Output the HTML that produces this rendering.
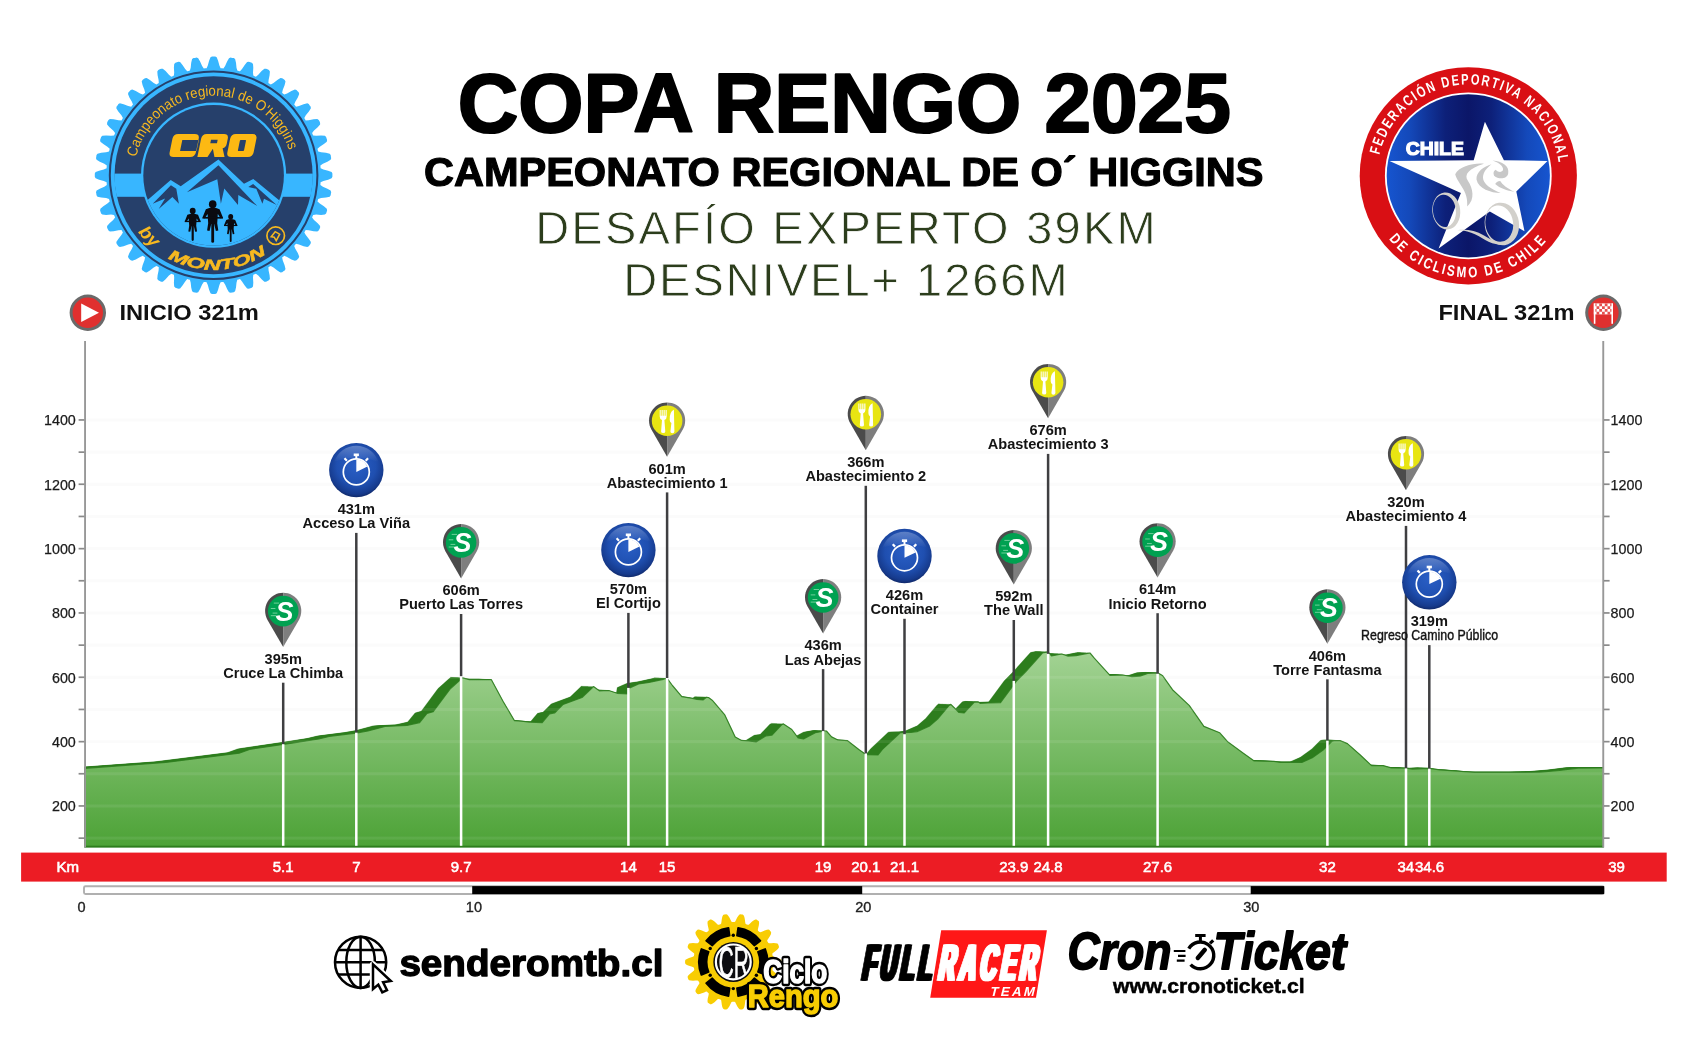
<!DOCTYPE html>
<html lang="es"><head><meta charset="utf-8"><title>Copa Rengo 2025 - Perfil</title>
<style>
html,body{margin:0;padding:0;background:#fff;}
body{width:1688px;height:1050px;overflow:hidden;font-family:"Liberation Sans",sans-serif;}
svg{display:block;position:absolute;left:0;top:0;will-change:transform;}
text{font-family:"Liberation Sans",sans-serif;}
</style></head><body>
<svg width="1688" height="1050" viewBox="0 0 1688 1050">
<defs>
<linearGradient id="gfill" gradientUnits="userSpaceOnUse" x1="0" y1="650" x2="0" y2="847">
<stop offset="0" stop-color="#a3d394"/><stop offset="1" stop-color="#4ca236"/></linearGradient>
<radialGradient id="gblue" cx="0.5" cy="0.42" r="0.58">
<stop offset="0" stop-color="#2a5fc6"/><stop offset="0.62" stop-color="#1f4fb0"/><stop offset="0.9" stop-color="#163a8c"/><stop offset="1" stop-color="#10296a"/></radialGradient>
<linearGradient id="gshine" x1="0" y1="0" x2="0" y2="1"><stop offset="0" stop-color="#fff" stop-opacity="0.28"/><stop offset="1" stop-color="#fff" stop-opacity="0"/></linearGradient>
<linearGradient id="gfed" x1="0" y1="0" x2="1" y2="0">
<stop offset="0" stop-color="#1655d0"/><stop offset="0.14" stop-color="#1449ba"/><stop offset="0.36" stop-color="#0d2079"/><stop offset="0.5" stop-color="#0b1668"/><stop offset="0.64" stop-color="#0d2079"/><stop offset="0.86" stop-color="#1449ba"/><stop offset="1" stop-color="#1655d0"/></linearGradient>
<g id="pinbase">
<path d="M0,0 L-15.7,-27.2 A18.2,18.2 0 0 1 0,-54.4 Z" fill="#4b4b4b"/>
<path d="M0,0 L15.7,-27.2 A18.2,18.2 0 0 0 0,-54.4 Z" fill="#7e7e7e"/>
</g>
<g id="pinS">
<use href="#pinbase"/>
<circle cx="0" cy="-36" r="15.3" fill="#00a151"/>
<text x="1.4" y="-26.4" font-family="Liberation Sans, sans-serif" font-weight="bold" font-style="italic" font-size="27" fill="#fff" text-anchor="middle">S</text>
<path d="M-9.4,-44h5.4 M-12.4,-38.6h4.6 M-10.6,-34h4.8 M-12.4,-31.4h5.6" stroke="#6fcf9b" stroke-width="1" fill="none"/>
</g>
<g id="pinF">
<use href="#pinbase"/>
<circle cx="0" cy="-36" r="15.3" fill="#e8e512"/>
<path d="M-7.4,-46.8 v6.6 q0,2.8 2.3,3.5 l-0.9,11.4 q0,1.6 2.1,1.6 q2.1,0 2.1,-1.6 l-0.9,-11.4 q2.3,-0.7 2.3,-3.5 v-6.6 h-1.1 v5.8 h-0.9 v-5.8 h-1.1 v5.8 h-0.9 v-5.8 h-1.1 v5.8 h-0.9 v-5.8 z" fill="#fff"/>
<path d="M6.6,-47 q-4.4,2.4 -4,10 q0.1,2.6 1.7,3.3 l-1,8.5 q0,1.6 2,1.6 q2,0 2,-1.6 l-0.5,-21.6 z" fill="#fff"/>
</g>
<g id="circT">
<circle r="27.2" fill="url(#gblue)"/>
<path d="M-22,-8 A23,23 0 0 1 22,-8 A40,26 0 0 0 -22,-8Z" fill="url(#gshine)"/>
<circle cx="0" cy="1.8" r="13" fill="none" stroke="#fff" stroke-width="1.7"/>
<path d="M0,1.8 L0,-10.6 A12.4,12.4 0 0 1 11.1,-3.6 Z" fill="#fff"/>
<rect x="-2.6" y="-16.6" width="5.2" height="2.6" fill="#fff"/>
<rect x="-1" y="-14.4" width="2" height="3.4" fill="#fff"/>
<path d="M-9.4,-9.4 l-2.4,-2.4 M9.4,-9.4 l2.4,-2.4" stroke="#fff" stroke-width="2.2"/>
</g>
</defs>
<text x="844.3" y="132" font-family="Liberation Sans, sans-serif" font-weight="bold" font-size="82.5" text-anchor="middle" textLength="773" lengthAdjust="spacingAndGlyphs" fill="#000" stroke="#000" stroke-width="2.2" stroke-linejoin="round">COPA RENGO 2025</text>
<text x="843.7" y="186.4" font-family="Liberation Sans, sans-serif" font-weight="bold" font-size="41" text-anchor="middle" textLength="839.5" lengthAdjust="spacingAndGlyphs" fill="#000" stroke="#000" stroke-width="1.2" stroke-linejoin="round">CAMPEONATO REGIONAL DE O´ HIGGINS</text>
<text x="845.4" y="244" font-family="Liberation Sans, sans-serif" font-size="47" text-anchor="middle" textLength="620.5" lengthAdjust="spacing" fill="#2c3d1c" stroke="#fff" stroke-width="0.8">DESAFÍO EXPERTO 39KM</text>
<text x="845.4" y="296" font-family="Liberation Sans, sans-serif" font-size="47" text-anchor="middle" textLength="444.5" lengthAdjust="spacing" fill="#2c3d1c" stroke="#fff" stroke-width="0.8">DESNIVEL+ 1266M</text>
<g id="logoCRO">
<path d="M213.6,56.4 L215.2,56.4 L216.7,57.2 L218.1,60.7 L219.4,65.4 L220.6,68.2 L222.0,68.3 L223.4,68.4 L225.1,65.9 L227.1,61.4 L229.0,58.2 L230.6,57.6 L232.2,57.9 L233.7,58.1 L235.1,59.1 L236.0,62.8 L236.5,67.7 L237.3,70.6 L238.6,71.0 L240.0,71.3 L242.0,69.0 L244.7,64.9 L247.1,62.0 L248.8,61.7 L250.3,62.2 L251.8,62.7 L253.0,63.9 L253.3,67.7 L253.0,72.6 L253.3,75.6 L254.6,76.2 L255.9,76.7 L258.3,74.8 L261.6,71.1 L264.4,68.7 L266.1,68.7 L267.5,69.3 L268.9,70.1 L269.9,71.5 L269.6,75.2 L268.6,80.0 L268.4,83.1 L269.6,83.8 L270.8,84.5 L273.5,83.0 L277.3,79.9 L280.5,77.9 L282.2,78.2 L283.4,79.1 L284.7,80.0 L285.5,81.5 L284.6,85.2 L282.8,89.8 L282.1,92.8 L283.2,93.7 L284.3,94.6 L287.1,93.5 L291.4,91.0 L294.9,89.6 L296.5,90.1 L297.6,91.2 L298.7,92.3 L299.2,93.9 L297.8,97.4 L295.3,101.7 L294.2,104.5 L295.1,105.6 L296.0,106.7 L299.0,106.0 L303.6,104.2 L307.3,103.3 L308.8,104.1 L309.7,105.4 L310.6,106.6 L310.9,108.3 L308.9,111.5 L305.8,115.3 L304.3,118.0 L305.0,119.2 L305.7,120.4 L308.8,120.2 L313.6,119.2 L317.3,118.9 L318.7,119.9 L319.5,121.3 L320.1,122.7 L320.1,124.4 L317.7,127.2 L314.0,130.5 L312.1,132.9 L312.6,134.2 L313.2,135.5 L316.2,135.8 L321.1,135.5 L324.9,135.8 L326.1,137.0 L326.6,138.5 L327.1,140.0 L326.8,141.7 L323.9,144.1 L319.8,146.8 L317.5,148.8 L317.8,150.2 L318.2,151.5 L321.1,152.3 L326.0,152.8 L329.7,153.7 L330.7,155.1 L330.9,156.6 L331.2,158.2 L330.6,159.8 L327.4,161.7 L322.9,163.7 L320.4,165.4 L320.5,166.8 L320.6,168.2 L323.4,169.4 L328.1,170.7 L331.6,172.1 L332.4,173.6 L332.4,175.2 L332.4,176.8 L331.6,178.3 L328.1,179.7 L323.4,181.0 L320.6,182.2 L320.5,183.6 L320.4,185.0 L322.9,186.7 L327.4,188.7 L330.6,190.6 L331.2,192.2 L330.9,193.8 L330.7,195.3 L329.7,196.7 L326.0,197.6 L321.1,198.1 L318.2,198.9 L317.8,200.2 L317.5,201.6 L319.8,203.6 L323.9,206.3 L326.8,208.7 L327.1,210.4 L326.6,211.9 L326.1,213.4 L324.9,214.6 L321.1,214.9 L316.2,214.6 L313.2,214.9 L312.6,216.2 L312.1,217.5 L314.0,219.9 L317.7,223.2 L320.1,226.0 L320.1,227.7 L319.5,229.1 L318.7,230.5 L317.3,231.5 L313.6,231.2 L308.8,230.2 L305.7,230.0 L305.0,231.2 L304.3,232.4 L305.8,235.1 L308.9,238.9 L310.9,242.1 L310.6,243.8 L309.7,245.0 L308.8,246.3 L307.3,247.1 L303.6,246.2 L299.0,244.4 L296.0,243.7 L295.1,244.8 L294.2,245.9 L295.3,248.7 L297.8,253.0 L299.2,256.5 L298.7,258.1 L297.6,259.2 L296.5,260.3 L294.9,260.8 L291.4,259.4 L287.1,256.9 L284.3,255.8 L283.2,256.7 L282.1,257.6 L282.8,260.6 L284.6,265.2 L285.5,268.9 L284.7,270.4 L283.4,271.3 L282.2,272.2 L280.5,272.5 L277.3,270.5 L273.5,267.4 L270.8,265.9 L269.6,266.6 L268.4,267.3 L268.6,270.4 L269.6,275.2 L269.9,278.9 L268.9,280.3 L267.5,281.1 L266.1,281.7 L264.4,281.7 L261.6,279.3 L258.3,275.6 L255.9,273.7 L254.6,274.2 L253.3,274.8 L253.0,277.8 L253.3,282.7 L253.0,286.5 L251.8,287.7 L250.3,288.2 L248.8,288.7 L247.1,288.4 L244.7,285.5 L242.0,281.4 L240.0,279.1 L238.6,279.4 L237.3,279.8 L236.5,282.7 L236.0,287.6 L235.1,291.3 L233.7,292.3 L232.2,292.5 L230.6,292.8 L229.0,292.2 L227.1,289.0 L225.1,284.5 L223.4,282.0 L222.0,282.1 L220.6,282.2 L219.4,285.0 L218.1,289.7 L216.7,293.2 L215.2,294.0 L213.6,294.0 L212.0,294.0 L210.5,293.2 L209.1,289.7 L207.8,285.0 L206.6,282.2 L205.2,282.1 L203.8,282.0 L202.1,284.5 L200.1,289.0 L198.2,292.2 L196.6,292.8 L195.0,292.5 L193.5,292.3 L192.1,291.3 L191.2,287.6 L190.7,282.7 L189.9,279.8 L188.6,279.4 L187.2,279.1 L185.2,281.4 L182.5,285.5 L180.1,288.4 L178.4,288.7 L176.9,288.2 L175.4,287.7 L174.2,286.5 L173.9,282.7 L174.2,277.8 L173.9,274.8 L172.6,274.2 L171.3,273.7 L168.9,275.6 L165.6,279.3 L162.8,281.7 L161.1,281.7 L159.7,281.1 L158.3,280.3 L157.3,278.9 L157.6,275.2 L158.6,270.4 L158.8,267.3 L157.6,266.6 L156.4,265.9 L153.7,267.4 L149.9,270.5 L146.7,272.5 L145.0,272.2 L143.8,271.3 L142.5,270.4 L141.7,268.9 L142.6,265.2 L144.4,260.6 L145.1,257.6 L144.0,256.7 L142.9,255.8 L140.1,256.9 L135.8,259.4 L132.3,260.8 L130.7,260.3 L129.6,259.2 L128.5,258.1 L128.0,256.5 L129.4,253.0 L131.9,248.7 L133.0,245.9 L132.1,244.8 L131.2,243.7 L128.2,244.4 L123.6,246.2 L119.9,247.1 L118.4,246.3 L117.5,245.0 L116.6,243.8 L116.3,242.1 L118.3,238.9 L121.4,235.1 L122.9,232.4 L122.2,231.2 L121.5,230.0 L118.4,230.2 L113.6,231.2 L109.9,231.5 L108.5,230.5 L107.7,229.1 L107.1,227.7 L107.1,226.0 L109.5,223.2 L113.2,219.9 L115.1,217.5 L114.6,216.2 L114.0,214.9 L111.0,214.6 L106.1,214.9 L102.3,214.6 L101.1,213.4 L100.6,211.9 L100.1,210.4 L100.4,208.7 L103.3,206.3 L107.4,203.6 L109.7,201.6 L109.4,200.2 L109.0,198.9 L106.1,198.1 L101.2,197.6 L97.5,196.7 L96.5,195.3 L96.3,193.8 L96.0,192.2 L96.6,190.6 L99.8,188.7 L104.3,186.7 L106.8,185.0 L106.7,183.6 L106.6,182.2 L103.8,181.0 L99.1,179.7 L95.6,178.3 L94.8,176.8 L94.8,175.2 L94.8,173.6 L95.6,172.1 L99.1,170.7 L103.8,169.4 L106.6,168.2 L106.7,166.8 L106.8,165.4 L104.3,163.7 L99.8,161.7 L96.6,159.8 L96.0,158.2 L96.3,156.6 L96.5,155.1 L97.5,153.7 L101.2,152.8 L106.1,152.3 L109.0,151.5 L109.4,150.2 L109.7,148.8 L107.4,146.8 L103.3,144.1 L100.4,141.7 L100.1,140.0 L100.6,138.5 L101.1,137.0 L102.3,135.8 L106.1,135.5 L111.0,135.8 L114.0,135.5 L114.6,134.2 L115.1,132.9 L113.2,130.5 L109.5,127.2 L107.1,124.4 L107.1,122.7 L107.7,121.3 L108.5,119.9 L109.9,118.9 L113.6,119.2 L118.4,120.2 L121.5,120.4 L122.2,119.2 L122.9,118.0 L121.4,115.3 L118.3,111.5 L116.3,108.3 L116.6,106.6 L117.5,105.4 L118.4,104.1 L119.9,103.3 L123.6,104.2 L128.2,106.0 L131.2,106.7 L132.1,105.6 L133.0,104.5 L131.9,101.7 L129.4,97.4 L128.0,93.9 L128.5,92.3 L129.6,91.2 L130.7,90.1 L132.3,89.6 L135.8,91.0 L140.1,93.5 L142.9,94.6 L144.0,93.7 L145.1,92.8 L144.4,89.8 L142.6,85.2 L141.7,81.5 L142.5,80.0 L143.8,79.1 L145.0,78.2 L146.7,77.9 L149.9,79.9 L153.7,83.0 L156.4,84.5 L157.6,83.8 L158.8,83.1 L158.6,80.0 L157.6,75.2 L157.3,71.5 L158.3,70.1 L159.7,69.3 L161.1,68.7 L162.8,68.7 L165.6,71.1 L168.9,74.8 L171.3,76.7 L172.6,76.2 L173.9,75.6 L174.2,72.6 L173.9,67.7 L174.2,63.9 L175.4,62.7 L176.9,62.2 L178.4,61.7 L180.1,62.0 L182.5,64.9 L185.2,69.0 L187.2,71.3 L188.6,71.0 L189.9,70.6 L190.7,67.7 L191.2,62.8 L192.1,59.1 L193.5,58.1 L195.0,57.9 L196.6,57.6 L198.2,58.2 L200.1,61.4 L202.1,65.9 L203.8,68.4 L205.2,68.3 L206.6,68.2 L207.8,65.4 L209.1,60.7 L210.5,57.2 L212.0,56.4Z" fill="#38b6ff"/>
<circle cx="213.6" cy="175.2" r="103.8" fill="none" stroke="#26406b" stroke-width="2"/>
<circle cx="213.6" cy="175.2" r="99" fill="#26406b"/>
<clipPath id="cpL"><circle cx="213.6" cy="175.2" r="99.2"/></clipPath>
<rect x="113.6" y="173.6" width="200" height="23.2" fill="#38b6ff" clip-path="url(#cpL)"/>
<circle cx="213.6" cy="175.2" r="72.6" fill="#38b6ff"/>
<clipPath id="cpI"><circle cx="213.6" cy="175.2" r="70.3"/></clipPath>
<g clip-path="url(#cpI)">
<rect x="141.6" y="103.19999999999999" width="144" height="144" fill="#26406b"/>
<path d="M142.7,204.3 L170.7,180.0 L180.7,186.3 L218.4,159.6 L244.0,183.7 L253.3,178.9 L284.0,204.3 L284.0,253.3 L142.7,253.3Z" fill="#38b6ff"/>
<path d="M152.7,203.7 L170.9,185.3 L176.3,188.7 L178.9,203.7 L172.4,197.1 L158.7,209.1 L165.1,198.4Z" fill="#26406b"/>
<path d="M186.9,192.3 L218.4,165.3 L257.3,206.0 L238.3,195.1 L238.0,204.9 L224.3,188.4 L220.9,203.7 L217.3,179.3Z" fill="#26406b"/>
<path d="M248.3,186.9 L253.1,184.0 L276.7,205.1 L264.0,198.7 L262.4,203.7 L256.3,188.7Z" fill="#26406b"/>
</g>
<path d="M36,-173 H161 Q197,-173 197,-137 V-36 Q197,0 161,0 H36 Q0,0 0,-36 V-137 Q0,-173 36,-173Z M76,-128 H200 V-45 H76Z M251,-173 H380 Q415,-173 415,-138 V-100 Q415,-72 391,-66 L419,0 H343 L319,-62 L291,0 H215 V-137 Q215,-173 251,-173Z M291,-130 H341 V-104 H291Z M469,-173 H594 Q630,-173 630,-137 V-36 Q630,0 594,0 H469 Q433,0 433,-36 V-137 Q433,-173 469,-173Z M515,-128 H549 Q555,-128 555,-122 V-51 Q555,-45 549,-45 H515 Q509,-45 509,-51 V-122 Q509,-128 515,-128Z" fill="#fdb913" fill-rule="evenodd" transform="translate(168.7,157.1) scale(0.1333) skewX(-11.5)"/>
<g transform="translate(192.7,222.4) scale(0.95)" fill="#0a0a10"><ellipse cx="0" cy="-12" rx="3.1" ry="3.3"/><path d="M-5.6,-8 Q0,-10.4 5.6,-8 L8.2,-1.6 L6.6,-0.4 L4.2,-4.2 L3.7,3.4 L4.6,9.5 L2.6,9.8 L1.2,4 L-1.2,4 L-2.6,9.8 L-4.6,9.5 L-3.7,3.4 L-4.2,-4.2 L-6.6,-0.4 L-8.2,-1.6 Z"/><path d="M-8.4,-1 L8.4,-1" stroke="#0a0a10" stroke-width="1.4"/><rect x="-1.15" y="1" width="2.3" height="18.5" rx="1.15"/></g>
<g transform="translate(212.7,219.0) scale(1.22)" fill="#0a0a10"><ellipse cx="0" cy="-12" rx="3.1" ry="3.3"/><path d="M-5.6,-8 Q0,-10.4 5.6,-8 L8.2,-1.6 L6.6,-0.4 L4.2,-4.2 L3.7,3.4 L4.6,9.5 L2.6,9.8 L1.2,4 L-1.2,4 L-2.6,9.8 L-4.6,9.5 L-3.7,3.4 L-4.2,-4.2 L-6.6,-0.4 L-8.2,-1.6 Z"/><path d="M-8.4,-1 L8.4,-1" stroke="#0a0a10" stroke-width="1.4"/><rect x="-1.15" y="1" width="2.3" height="18.5" rx="1.15"/></g>
<g transform="translate(230.7,226.3) scale(0.8)" fill="#0a0a10"><ellipse cx="0" cy="-12" rx="3.1" ry="3.3"/><path d="M-5.6,-8 Q0,-10.4 5.6,-8 L8.2,-1.6 L6.6,-0.4 L4.2,-4.2 L3.7,3.4 L4.6,9.5 L2.6,9.8 L1.2,4 L-1.2,4 L-2.6,9.8 L-4.6,9.5 L-3.7,3.4 L-4.2,-4.2 L-6.6,-0.4 L-8.2,-1.6 Z"/><path d="M-8.4,-1 L8.4,-1" stroke="#0a0a10" stroke-width="1.4"/><rect x="-1.15" y="1" width="2.3" height="18.5" rx="1.15"/></g>
<path id="arcL1" d="M136.1375798495738,157.31639117966273 A79.5,79.5 0 0 1 290.2086210300855,153.95454910177858" fill="none"/>
<text font-family="Liberation Sans, sans-serif" font-size="14.6" fill="#f7b920"><textPath href="#arcL1" textLength="206" lengthAdjust="spacingAndGlyphs">Campeonato regional de O'Higgins</textPath></text>
<path id="arcL2" d="M137.9,231.9 A94.6,94.6 0 0 0 166.3,257.1" fill="none"/>
<text font-family="Liberation Sans, sans-serif" font-size="17.5" font-weight="bold" font-style="italic" fill="#f7b920"><textPath href="#arcL2" textLength="22.5" lengthAdjust="spacingAndGlyphs">by</textPath></text>
<path id="arcL3" d="M168.0,258.1 A94.6,94.6 0 0 0 281.6,240.9" fill="none"/>
<text font-family="Liberation Sans, sans-serif" font-size="14.6" font-weight="bold" font-style="italic" fill="#f7b920" stroke="#f7b920" stroke-width="0.5"><textPath href="#arcL3" textLength="103.5" lengthAdjust="spacingAndGlyphs">MONTON</textPath></text>
<circle cx="275.7" cy="235.7" r="8.8" fill="none" stroke="#f7b920" stroke-width="1.7"/>
<path d="M271.2,236.7 l4,-5 l4.5,2.5 l-3.5,6.5 l-2,-3.5z" fill="none" stroke="#f7b920" stroke-width="1.5"/>
</g>
<g id="logoFED">
<circle cx="1468.3" cy="175.8" r="108.6" fill="#d90f14"/>
<circle cx="1468.3" cy="175.8" r="83.4" fill="#fff"/>
<circle cx="1468.3" cy="175.8" r="81.6" fill="url(#gfed)"/>
<path d="M1484.9,121.8 L1503.9,160.2 L1547.5,160.9 L1516.3,191.6 L1524.5,231.2 L1489.8,211.4 L1438.6,248.6 L1460.9,193.1 L1389.5,160.9 L1473.7,160.2Z" fill="#fff"/>
<path d="M 1484.0,163.8 C 1474.9,162.6 1458.9,166.1 1455.2,174.3 C 1457.7,184.0 1468.6,190.3 1467.2,206.5 C 1475.4,199.4 1472.8,188.0 1468.0,181.1 C 1463.4,174.3 1469.1,168.6 1484.0,163.8 Z" fill="#c8c8c8"/>
<path d="M 1491.5,164.2 C 1484.0,166.1 1475.8,172.0 1476.5,179.4 C 1478.3,188.6 1490.9,192.8 1500.7,192.9 C 1490.9,189.1 1483.1,183.7 1483.0,177.7 C 1482.9,172.0 1487.4,167.4 1491.5,164.2 Z" fill="#c8c8c8"/>
<path d="M 1492.5,160.6 C 1502.3,161.3 1509.6,166.1 1508.2,173.4 C 1506.9,179.1 1498.9,179.8 1494.1,175.7 C 1492.9,173.1 1493.6,170.6 1495.7,169.7 C 1498.9,173.4 1503.7,172.2 1503.0,168.6 C 1501.8,164.6 1497.7,162.4 1492.5,160.6 Z" fill="#c8c8c8"/>
<path d="M 1495.2,184.1 C 1500.0,188.5 1506.9,190.7 1514.4,191.8 C 1506.9,188.0 1502.5,184.6 1500.2,180.9 C 1497.7,180.9 1495.9,182.3 1495.2,184.1 Z" fill="#c8c8c8"/>
<path d="M1432.3,210.9 a13.9,18.5 0 1 0 27.9,0 a13.9,18.5 0 1 0 -27.9,0Z M1433.0,210.6 a11.4,16.1 0 1 0 22.9,0 a11.4,16.1 0 1 0 -22.9,0Z" fill="#d2d0cb" fill-rule="evenodd" transform="rotate(-6 1446.3 210.9)"/>
<path d="M1484.7,224.0 a17.1,21.3 0 1 0 34.3,0 a17.1,21.3 0 1 0 -34.3,0Z M1485.5,223.2 a13.8,18.1 0 1 0 27.7,0 a13.8,18.1 0 1 0 -27.7,0Z" fill="#d2d0cb" fill-rule="evenodd" transform="rotate(-8 1501.8 224.0)"/>
<path d="M 1457.1,230.3 C 1470.3,229.7 1479.4,237.1 1488.6,241.7 C 1494.3,244.2 1500.0,245.1 1504.6,244.7 C 1497.7,242.9 1490.9,239.4 1484.0,235.4 C 1474.9,230.3 1465.7,229.1 1457.1,230.3 Z" fill="#d2d0cb"/>
<text x="1434.8" y="154.5" font-family="Liberation Sans, sans-serif" font-weight="bold" font-size="18.5" text-anchor="middle" textLength="58" lengthAdjust="spacingAndGlyphs" fill="#fff" stroke="#fff" stroke-width="1.2">CHILE</text>
<path id="arcR1" d="M1379.4,155.0 A91.3,91.3 0 0 1 1559.0,165.0" fill="none"/>
<text font-family="Liberation Sans, sans-serif" font-weight="bold" font-size="15" fill="#fff" letter-spacing="2.4"><textPath href="#arcR1" textLength="254" lengthAdjust="spacingAndGlyphs">FEDERACIÓN DEPORTIVA NACIONAL</textPath></text>
<path id="arcR2" d="M1388.9,239.0 A101.5,101.5 0 0 0 1548.3,238.3" fill="none"/>
<text font-family="Liberation Sans, sans-serif" font-weight="bold" font-size="15" fill="#fff" letter-spacing="3"><textPath href="#arcR2" textLength="182" lengthAdjust="spacingAndGlyphs">DE CICLISMO DE CHILE</textPath></text>
</g>
<g id="startfinish">
<circle cx="87.8" cy="312.8" r="18.2" fill="#6a6a6a"/><circle cx="87.8" cy="312.8" r="15.2" fill="#e0302f"/>
<path d="M81.2,303.6 L99,312.8 L81.2,322 Z" fill="#fff"/>
<text x="119.4" y="320.4" font-family="Liberation Sans, sans-serif" font-weight="bold" font-size="22.8" textLength="139.5" lengthAdjust="spacingAndGlyphs" fill="#111">INICIO 321m</text>
<circle cx="1603.4" cy="312.8" r="18.2" fill="#6a6a6a"/><circle cx="1603.4" cy="312.8" r="15.2" fill="#e0302f"/>
<rect x="1593.8000000000002" y="303.40000000000003" width="19.2" height="11" fill="#fff"/>
<path d="M1593.80,303.40h2.74v2.75h-2.74zM1599.28,303.40h2.74v2.75h-2.74zM1604.76,303.40h2.74v2.75h-2.74zM1610.24,303.40h2.74v2.75h-2.74zM1596.54,306.15h2.74v2.75h-2.74zM1602.02,306.15h2.74v2.75h-2.74zM1607.50,306.15h2.74v2.75h-2.74zM1593.80,308.90h2.74v2.75h-2.74zM1599.28,308.90h2.74v2.75h-2.74zM1604.76,308.90h2.74v2.75h-2.74zM1610.24,308.90h2.74v2.75h-2.74zM1596.54,311.65h2.74v2.75h-2.74zM1602.02,311.65h2.74v2.75h-2.74zM1607.50,311.65h2.74v2.75h-2.74z" fill="#e0302f" opacity="0.85"/>
<rect x="1593.8000000000002" y="303.40000000000003" width="1.6" height="20.4" fill="#fff"/><rect x="1611.4" y="303.40000000000003" width="1.6" height="20.4" fill="#fff"/>
<text x="1574.6" y="320.4" font-family="Liberation Sans, sans-serif" font-weight="bold" font-size="22.8" text-anchor="end" textLength="136.2" lengthAdjust="spacingAndGlyphs" fill="#111">FINAL 321m</text>
</g>
<g id="chart">
<clipPath id="cpC"><rect x="84.4" y="340" width="1519.4" height="507.6"/></clipPath>
<defs><path id="pp" d="M65.0,847.0 L65.0,768.3 L85.0,768.3 L165.8,762.4 L239.1,753.2 L249.6,749.4 L295.1,742.7 L318.7,739.0 L329.2,736.5 L356.0,733.1 L368.0,731.0 L385.0,726.4 L407.0,725.4 L419.6,722.6 L427.0,713.4 L433.2,711.7 L450.0,689.1 L462.6,677.8 L469.4,679.7 L491.4,679.7 L503.0,701.3 L514.5,720.7 L521.8,721.2 L529.5,722.1 L542.2,722.6 L549.5,713.8 L554.8,712.8 L563.1,704.4 L582.0,697.5 L592.5,687.6 L593.5,686.6 L599.3,690.8 L608.7,690.5 L617.1,693.3 L628.3,694.0 L629.2,688.1 L638.6,683.9 L649.0,682.4 L663.4,679.3 L667.0,678.2 L672.4,685.5 L681.8,696.6 L691.2,698.1 L697.0,699.4 L703.0,699.9 L706.5,697.3 L708.5,697.5 L712.2,700.2 L724.8,714.9 L735.2,736.9 L741.5,740.4 L748.9,741.0 L756.0,742.0 L766.1,735.8 L772.0,735.1 L781.8,724.7 L783.5,723.9 L791.8,729.5 L798.1,737.9 L803.5,739.0 L815.3,732.7 L824.8,731.0 L826.4,731.0 L831.6,736.9 L837.9,740.0 L847.3,740.6 L858.8,749.4 L866.2,754.7 L878.0,755.0 L882.4,749.4 L900.2,732.7 L910.7,732.5 L917.0,731.6 L929.2,726.3 L937.6,719.0 L949.1,705.4 L950.8,704.3 L955.0,708.5 L959.0,712.5 L964.0,713.0 L974.3,702.2 L978.0,701.8 L980.1,703.3 L988.5,702.9 L1000.5,702.6 L1016.2,681.3 L1025.6,671.8 L1042.4,653.0 L1048.0,651.9 L1051.5,655.9 L1061.8,654.0 L1068.1,656.1 L1076.0,655.7 L1086.4,653.6 L1090.0,653.0 L1094.3,658.2 L1110.0,675.4 L1122.6,675.0 L1132.0,676.6 L1140.0,676.1 L1148.4,673.3 L1158.0,672.9 L1162.4,675.4 L1172.5,689.7 L1189.2,705.4 L1203.9,726.4 L1219.6,732.7 L1228.0,742.1 L1243.7,753.6 L1254.2,761.0 L1274.1,761.4 L1280.4,762.4 L1293.0,762.5 L1301.8,762.4 L1312.3,757.8 L1323.8,749.4 L1332.2,741.1 L1334.0,740.6 L1340.1,740.6 L1347.4,743.6 L1360.0,754.7 L1371.5,765.6 L1383.0,765.6 L1391.4,767.9 L1406.0,768.1 L1412.4,769.1 L1429.1,768.3 L1440.0,769.8 L1455.0,770.8 L1475.0,772.5 L1520.0,772.5 L1540.0,772.1 L1559.2,770.5 L1578.1,768.1 L1584.0,768.1 L1603.0,768.0 L1623.0,768.0 L1623.0,847.0Z"/></defs>
<rect x="86.0" y="836.6" width="1516.0" height="3" fill="#fbfbfb"/>
<rect x="86.0" y="804.5" width="1516.0" height="3" fill="#fbfbfb"/>
<rect x="86.0" y="772.3" width="1516.0" height="3" fill="#fbfbfb"/>
<rect x="86.0" y="740.1" width="1516.0" height="3" fill="#fbfbfb"/>
<rect x="86.0" y="708.0" width="1516.0" height="3" fill="#fbfbfb"/>
<rect x="86.0" y="675.8" width="1516.0" height="3" fill="#fbfbfb"/>
<rect x="86.0" y="643.6" width="1516.0" height="3" fill="#fbfbfb"/>
<rect x="86.0" y="611.5" width="1516.0" height="3" fill="#fbfbfb"/>
<rect x="86.0" y="579.3" width="1516.0" height="3" fill="#fbfbfb"/>
<rect x="86.0" y="547.1" width="1516.0" height="3" fill="#fbfbfb"/>
<rect x="86.0" y="515.0" width="1516.0" height="3" fill="#fbfbfb"/>
<rect x="86.0" y="482.8" width="1516.0" height="3" fill="#fbfbfb"/>
<rect x="86.0" y="450.6" width="1516.0" height="3" fill="#fbfbfb"/>
<rect x="86.0" y="418.5" width="1516.0" height="3" fill="#fbfbfb"/>
<g clip-path="url(#cpC)">
<g fill="#2d7d1d" stroke="#2d7d1d" stroke-width="0.3" stroke-linejoin="round">
<use href="#pp" x="0" y="-0.00"/>
<use href="#pp" x="-1" y="-0.04"/>
<use href="#pp" x="-2" y="-0.08"/>
<use href="#pp" x="-3" y="-0.12"/>
<use href="#pp" x="-4" y="-0.17"/>
<use href="#pp" x="-5" y="-0.21"/>
<use href="#pp" x="-6" y="-0.25"/>
<use href="#pp" x="-7" y="-0.29"/>
<use href="#pp" x="-8" y="-0.33"/>
<use href="#pp" x="-9" y="-0.38"/>
<use href="#pp" x="-10" y="-0.42"/>
<use href="#pp" x="-11" y="-0.46"/>
<use href="#pp" x="-12" y="-0.50"/>
</g>
<path d="M85.0,847.0 L85.0,768.3 L165.8,762.4 L239.1,753.2 L249.6,749.4 L295.1,742.7 L318.7,739.0 L329.2,736.5 L356.0,733.1 L368.0,731.0 L385.0,726.4 L407.0,725.4 L419.6,722.6 L427.0,713.4 L433.2,711.7 L450.0,689.1 L462.6,677.8 L469.4,679.7 L491.4,679.7 L503.0,701.3 L514.5,720.7 L521.8,721.2 L529.5,722.1 L542.2,722.6 L549.5,713.8 L554.8,712.8 L563.1,704.4 L582.0,697.5 L592.5,687.6 L593.5,686.6 L599.3,690.8 L608.7,690.5 L617.1,693.3 L628.3,694.0 L629.2,688.1 L638.6,683.9 L649.0,682.4 L663.4,679.3 L667.0,678.2 L672.4,685.5 L681.8,696.6 L691.2,698.1 L697.0,699.4 L703.0,699.9 L706.5,697.3 L708.5,697.5 L712.2,700.2 L724.8,714.9 L735.2,736.9 L741.5,740.4 L748.9,741.0 L756.0,742.0 L766.1,735.8 L772.0,735.1 L781.8,724.7 L783.5,723.9 L791.8,729.5 L798.1,737.9 L803.5,739.0 L815.3,732.7 L824.8,731.0 L826.4,731.0 L831.6,736.9 L837.9,740.0 L847.3,740.6 L858.8,749.4 L866.2,754.7 L878.0,755.0 L882.4,749.4 L900.2,732.7 L910.7,732.5 L917.0,731.6 L929.2,726.3 L937.6,719.0 L949.1,705.4 L950.8,704.3 L955.0,708.5 L959.0,712.5 L964.0,713.0 L974.3,702.2 L978.0,701.8 L980.1,703.3 L988.5,702.9 L1000.5,702.6 L1016.2,681.3 L1025.6,671.8 L1042.4,653.0 L1048.0,651.9 L1051.5,655.9 L1061.8,654.0 L1068.1,656.1 L1076.0,655.7 L1086.4,653.6 L1090.0,653.0 L1094.3,658.2 L1110.0,675.4 L1122.6,675.0 L1132.0,676.6 L1140.0,676.1 L1148.4,673.3 L1158.0,672.9 L1162.4,675.4 L1172.5,689.7 L1189.2,705.4 L1203.9,726.4 L1219.6,732.7 L1228.0,742.1 L1243.7,753.6 L1254.2,761.0 L1274.1,761.4 L1280.4,762.4 L1293.0,762.5 L1301.8,762.4 L1312.3,757.8 L1323.8,749.4 L1332.2,741.1 L1334.0,740.6 L1340.1,740.6 L1347.4,743.6 L1360.0,754.7 L1371.5,765.6 L1383.0,765.6 L1391.4,767.9 L1406.0,768.1 L1412.4,769.1 L1429.1,768.3 L1440.0,769.8 L1455.0,770.8 L1475.0,772.5 L1520.0,772.5 L1540.0,772.1 L1559.2,770.5 L1578.1,768.1 L1584.0,768.1 L1603.0,768.0 L1603.0,847.0Z" fill="url(#gfill)"/>
<path d="M85.0,768.3 L165.8,762.4 L239.1,753.2 L249.6,749.4 L295.1,742.7 L318.7,739.0 L329.2,736.5 L356.0,733.1 L368.0,731.0 L385.0,726.4 L407.0,725.4 L419.6,722.6 L427.0,713.4 L433.2,711.7 L450.0,689.1 L462.6,677.8 L469.4,679.7 L491.4,679.7 L503.0,701.3 L514.5,720.7 L521.8,721.2 L529.5,722.1 L542.2,722.6 L549.5,713.8 L554.8,712.8 L563.1,704.4 L582.0,697.5 L592.5,687.6 L593.5,686.6 L599.3,690.8 L608.7,690.5 L617.1,693.3 L628.3,694.0 L629.2,688.1 L638.6,683.9 L649.0,682.4 L663.4,679.3 L667.0,678.2 L672.4,685.5 L681.8,696.6 L691.2,698.1 L697.0,699.4 L703.0,699.9 L706.5,697.3 L708.5,697.5 L712.2,700.2 L724.8,714.9 L735.2,736.9 L741.5,740.4 L748.9,741.0 L756.0,742.0 L766.1,735.8 L772.0,735.1 L781.8,724.7 L783.5,723.9 L791.8,729.5 L798.1,737.9 L803.5,739.0 L815.3,732.7 L824.8,731.0 L826.4,731.0 L831.6,736.9 L837.9,740.0 L847.3,740.6 L858.8,749.4 L866.2,754.7 L878.0,755.0 L882.4,749.4 L900.2,732.7 L910.7,732.5 L917.0,731.6 L929.2,726.3 L937.6,719.0 L949.1,705.4 L950.8,704.3 L955.0,708.5 L959.0,712.5 L964.0,713.0 L974.3,702.2 L978.0,701.8 L980.1,703.3 L988.5,702.9 L1000.5,702.6 L1016.2,681.3 L1025.6,671.8 L1042.4,653.0 L1048.0,651.9 L1051.5,655.9 L1061.8,654.0 L1068.1,656.1 L1076.0,655.7 L1086.4,653.6 L1090.0,653.0 L1094.3,658.2 L1110.0,675.4 L1122.6,675.0 L1132.0,676.6 L1140.0,676.1 L1148.4,673.3 L1158.0,672.9 L1162.4,675.4 L1172.5,689.7 L1189.2,705.4 L1203.9,726.4 L1219.6,732.7 L1228.0,742.1 L1243.7,753.6 L1254.2,761.0 L1274.1,761.4 L1280.4,762.4 L1293.0,762.5 L1301.8,762.4 L1312.3,757.8 L1323.8,749.4 L1332.2,741.1 L1334.0,740.6 L1340.1,740.6 L1347.4,743.6 L1360.0,754.7 L1371.5,765.6 L1383.0,765.6 L1391.4,767.9 L1406.0,768.1 L1412.4,769.1 L1429.1,768.3 L1440.0,769.8 L1455.0,770.8 L1475.0,772.5 L1520.0,772.5 L1540.0,772.1 L1559.2,770.5 L1578.1,768.1 L1584.0,768.1 L1603.0,768.0" fill="none" stroke="#2d7d1d" stroke-width="1.2" stroke-linejoin="round" opacity="0.85"/>
<rect x="86.0" y="836.6" width="1516.0" height="3" fill="#fff" opacity="0.08"/>
<rect x="86.0" y="804.5" width="1516.0" height="3" fill="#fff" opacity="0.08"/>
<rect x="86.0" y="772.3" width="1516.0" height="3" fill="#fff" opacity="0.08"/>
<rect x="86.0" y="740.1" width="1516.0" height="3" fill="#fff" opacity="0.08"/>
<rect x="86.0" y="708.0" width="1516.0" height="3" fill="#fff" opacity="0.08"/>
<rect x="86.0" y="675.8" width="1516.0" height="3" fill="#fff" opacity="0.08"/>
<rect x="86.0" y="643.6" width="1516.0" height="3" fill="#fff" opacity="0.08"/>
</g>
<rect x="84.4" y="845.7" width="1519.2" height="1.7" fill="#2d7d1d"/>
<rect x="84.1" y="341" width="1.9" height="506.5" fill="#989898"/>
<rect x="1602.3" y="341" width="1.9" height="506.5" fill="#989898"/>
<rect x="78.6" y="837.3" width="5.8" height="1.7" fill="#8a8a8a"/>
<rect x="1604" y="837.3" width="5.6" height="1.7" fill="#8a8a8a"/>
<rect x="78.6" y="805.1" width="5.8" height="1.7" fill="#8a8a8a"/>
<rect x="1604" y="805.1" width="5.6" height="1.7" fill="#8a8a8a"/>
<text x="75.8" y="811.3" font-family="Liberation Sans, sans-serif" font-size="14.3" stroke="#1a1a1a" stroke-width="0.25" text-anchor="end" fill="#1a1a1a">200</text>
<text x="1610.6" y="811.3" font-family="Liberation Sans, sans-serif" font-size="14.3" stroke="#1a1a1a" stroke-width="0.25" fill="#1a1a1a">200</text>
<rect x="78.6" y="772.9" width="5.8" height="1.7" fill="#8a8a8a"/>
<rect x="1604" y="772.9" width="5.6" height="1.7" fill="#8a8a8a"/>
<rect x="78.6" y="740.8" width="5.8" height="1.7" fill="#8a8a8a"/>
<rect x="1604" y="740.8" width="5.6" height="1.7" fill="#8a8a8a"/>
<text x="75.8" y="746.9" font-family="Liberation Sans, sans-serif" font-size="14.3" stroke="#1a1a1a" stroke-width="0.25" text-anchor="end" fill="#1a1a1a">400</text>
<text x="1610.6" y="746.9" font-family="Liberation Sans, sans-serif" font-size="14.3" stroke="#1a1a1a" stroke-width="0.25" fill="#1a1a1a">400</text>
<rect x="78.6" y="708.6" width="5.8" height="1.7" fill="#8a8a8a"/>
<rect x="1604" y="708.6" width="5.6" height="1.7" fill="#8a8a8a"/>
<rect x="78.6" y="676.4" width="5.8" height="1.7" fill="#8a8a8a"/>
<rect x="1604" y="676.4" width="5.6" height="1.7" fill="#8a8a8a"/>
<text x="75.8" y="682.6" font-family="Liberation Sans, sans-serif" font-size="14.3" stroke="#1a1a1a" stroke-width="0.25" text-anchor="end" fill="#1a1a1a">600</text>
<text x="1610.6" y="682.6" font-family="Liberation Sans, sans-serif" font-size="14.3" stroke="#1a1a1a" stroke-width="0.25" fill="#1a1a1a">600</text>
<rect x="78.6" y="644.3" width="5.8" height="1.7" fill="#8a8a8a"/>
<rect x="1604" y="644.3" width="5.6" height="1.7" fill="#8a8a8a"/>
<rect x="78.6" y="612.1" width="5.8" height="1.7" fill="#8a8a8a"/>
<rect x="1604" y="612.1" width="5.6" height="1.7" fill="#8a8a8a"/>
<text x="75.8" y="618.3" font-family="Liberation Sans, sans-serif" font-size="14.3" stroke="#1a1a1a" stroke-width="0.25" text-anchor="end" fill="#1a1a1a">800</text>
<text x="1610.6" y="618.3" font-family="Liberation Sans, sans-serif" font-size="14.3" stroke="#1a1a1a" stroke-width="0.25" fill="#1a1a1a">800</text>
<rect x="78.6" y="579.9" width="5.8" height="1.7" fill="#8a8a8a"/>
<rect x="1604" y="579.9" width="5.6" height="1.7" fill="#8a8a8a"/>
<rect x="78.6" y="547.8" width="5.8" height="1.7" fill="#8a8a8a"/>
<rect x="1604" y="547.8" width="5.6" height="1.7" fill="#8a8a8a"/>
<text x="75.8" y="553.9" font-family="Liberation Sans, sans-serif" font-size="14.3" stroke="#1a1a1a" stroke-width="0.25" text-anchor="end" fill="#1a1a1a">1000</text>
<text x="1610.6" y="553.9" font-family="Liberation Sans, sans-serif" font-size="14.3" stroke="#1a1a1a" stroke-width="0.25" fill="#1a1a1a">1000</text>
<rect x="78.6" y="515.6" width="5.8" height="1.7" fill="#8a8a8a"/>
<rect x="1604" y="515.6" width="5.6" height="1.7" fill="#8a8a8a"/>
<rect x="78.6" y="483.4" width="5.8" height="1.7" fill="#8a8a8a"/>
<rect x="1604" y="483.4" width="5.6" height="1.7" fill="#8a8a8a"/>
<text x="75.8" y="489.6" font-family="Liberation Sans, sans-serif" font-size="14.3" stroke="#1a1a1a" stroke-width="0.25" text-anchor="end" fill="#1a1a1a">1200</text>
<text x="1610.6" y="489.6" font-family="Liberation Sans, sans-serif" font-size="14.3" stroke="#1a1a1a" stroke-width="0.25" fill="#1a1a1a">1200</text>
<rect x="78.6" y="451.3" width="5.8" height="1.7" fill="#8a8a8a"/>
<rect x="1604" y="451.3" width="5.6" height="1.7" fill="#8a8a8a"/>
<rect x="78.6" y="419.1" width="5.8" height="1.7" fill="#8a8a8a"/>
<rect x="1604" y="419.1" width="5.6" height="1.7" fill="#8a8a8a"/>
<text x="75.8" y="425.3" font-family="Liberation Sans, sans-serif" font-size="14.3" stroke="#1a1a1a" stroke-width="0.25" text-anchor="end" fill="#1a1a1a">1400</text>
<text x="1610.6" y="425.3" font-family="Liberation Sans, sans-serif" font-size="14.3" stroke="#1a1a1a" stroke-width="0.25" fill="#1a1a1a">1400</text>
</g>
<g id="markers">
<rect x="281.95" y="682.7" width="2.5" height="61.5" fill="#3f3f41"/>
<rect x="281.95" y="744.2" width="2.5" height="101.6" fill="#fff"/>
<text x="283.2" y="663.9" font-family="Liberation Sans, sans-serif" font-weight="bold" font-size="14.6" text-anchor="middle" fill="#141414">395m</text>
<text x="283.2" y="678.1" font-family="Liberation Sans, sans-serif" font-weight="bold" font-size="14.6" text-anchor="middle" fill="#141414">Cruce La Chimba</text>
<use href="#pinS" x="283.2" y="647.1"/>
<rect x="355.05" y="532.9" width="2.5" height="199.8" fill="#3f3f41"/>
<rect x="355.05" y="732.7" width="2.5" height="113.1" fill="#fff"/>
<text x="356.3" y="514.1" font-family="Liberation Sans, sans-serif" font-weight="bold" font-size="14.6" text-anchor="middle" fill="#141414">431m</text>
<text x="356.3" y="528.3" font-family="Liberation Sans, sans-serif" font-weight="bold" font-size="14.6" text-anchor="middle" fill="#141414">Acceso La Viña</text>
<use href="#circT" x="356.3" y="470.1"/>
<rect x="459.85" y="614.0" width="2.5" height="62.4" fill="#3f3f41"/>
<rect x="459.85" y="676.4" width="2.5" height="169.4" fill="#fff"/>
<text x="461.1" y="595.2" font-family="Liberation Sans, sans-serif" font-weight="bold" font-size="14.6" text-anchor="middle" fill="#141414">606m</text>
<text x="461.1" y="609.4" font-family="Liberation Sans, sans-serif" font-weight="bold" font-size="14.6" text-anchor="middle" fill="#141414">Puerto Las Torres</text>
<use href="#pinS" x="461.1" y="578.4"/>
<rect x="627.15" y="612.9" width="2.5" height="75.0" fill="#3f3f41"/>
<rect x="627.15" y="687.9" width="2.5" height="157.9" fill="#fff"/>
<text x="628.4" y="594.1" font-family="Liberation Sans, sans-serif" font-weight="bold" font-size="14.6" text-anchor="middle" fill="#141414">570m</text>
<text x="628.4" y="608.3" font-family="Liberation Sans, sans-serif" font-weight="bold" font-size="14.6" text-anchor="middle" fill="#141414">El Cortijo</text>
<use href="#circT" x="628.4" y="550.1"/>
<rect x="665.85" y="492.4" width="2.5" height="185.6" fill="#3f3f41"/>
<rect x="665.85" y="678.0" width="2.5" height="167.8" fill="#fff"/>
<text x="667.1" y="473.6" font-family="Liberation Sans, sans-serif" font-weight="bold" font-size="14.6" text-anchor="middle" fill="#141414">601m</text>
<text x="667.1" y="487.8" font-family="Liberation Sans, sans-serif" font-weight="bold" font-size="14.6" text-anchor="middle" fill="#141414">Abastecimiento 1</text>
<use href="#pinF" x="667.1" y="456.8"/>
<rect x="821.85" y="669.1" width="2.5" height="62.0" fill="#3f3f41"/>
<rect x="821.85" y="731.1" width="2.5" height="114.7" fill="#fff"/>
<text x="823.1" y="650.3" font-family="Liberation Sans, sans-serif" font-weight="bold" font-size="14.6" text-anchor="middle" fill="#141414">436m</text>
<text x="823.1" y="664.5" font-family="Liberation Sans, sans-serif" font-weight="bold" font-size="14.6" text-anchor="middle" fill="#141414">Las Abejas</text>
<use href="#pinS" x="823.1" y="633.5"/>
<rect x="864.55" y="485.8" width="2.5" height="267.8" fill="#3f3f41"/>
<rect x="864.55" y="753.6" width="2.5" height="92.2" fill="#fff"/>
<text x="865.8" y="467.0" font-family="Liberation Sans, sans-serif" font-weight="bold" font-size="14.6" text-anchor="middle" fill="#141414">366m</text>
<text x="865.8" y="481.2" font-family="Liberation Sans, sans-serif" font-weight="bold" font-size="14.6" text-anchor="middle" fill="#141414">Abastecimiento 2</text>
<use href="#pinF" x="865.8" y="450.2"/>
<rect x="903.25" y="618.8" width="2.5" height="115.5" fill="#3f3f41"/>
<rect x="903.25" y="734.3" width="2.5" height="111.5" fill="#fff"/>
<text x="904.5" y="600.0" font-family="Liberation Sans, sans-serif" font-weight="bold" font-size="14.6" text-anchor="middle" fill="#141414">426m</text>
<text x="904.5" y="614.2" font-family="Liberation Sans, sans-serif" font-weight="bold" font-size="14.6" text-anchor="middle" fill="#141414">Container</text>
<use href="#circT" x="904.5" y="556.0"/>
<rect x="1012.55" y="620.0" width="2.5" height="60.9" fill="#3f3f41"/>
<rect x="1012.55" y="680.9" width="2.5" height="164.9" fill="#fff"/>
<text x="1013.8" y="601.2" font-family="Liberation Sans, sans-serif" font-weight="bold" font-size="14.6" text-anchor="middle" fill="#141414">592m</text>
<text x="1013.8" y="615.4" font-family="Liberation Sans, sans-serif" font-weight="bold" font-size="14.6" text-anchor="middle" fill="#141414">The Wall</text>
<use href="#pinS" x="1013.8" y="584.4"/>
<rect x="1046.85" y="453.9" width="2.5" height="200.0" fill="#3f3f41"/>
<rect x="1046.85" y="653.9" width="2.5" height="191.9" fill="#fff"/>
<text x="1048.1" y="435.1" font-family="Liberation Sans, sans-serif" font-weight="bold" font-size="14.6" text-anchor="middle" fill="#141414">676m</text>
<text x="1048.1" y="449.3" font-family="Liberation Sans, sans-serif" font-weight="bold" font-size="14.6" text-anchor="middle" fill="#141414">Abastecimiento 3</text>
<use href="#pinF" x="1048.1" y="418.3"/>
<rect x="1156.35" y="613.2" width="2.5" height="60.6" fill="#3f3f41"/>
<rect x="1156.35" y="673.8" width="2.5" height="172.0" fill="#fff"/>
<text x="1157.6" y="594.4" font-family="Liberation Sans, sans-serif" font-weight="bold" font-size="14.6" text-anchor="middle" fill="#141414">614m</text>
<text x="1157.6" y="608.6" font-family="Liberation Sans, sans-serif" font-weight="bold" font-size="14.6" text-anchor="middle" fill="#141414">Inicio Retorno</text>
<use href="#pinS" x="1157.6" y="577.6"/>
<rect x="1326.15" y="679.3" width="2.5" height="61.4" fill="#3f3f41"/>
<rect x="1326.15" y="740.7" width="2.5" height="105.1" fill="#fff"/>
<text x="1327.4" y="660.5" font-family="Liberation Sans, sans-serif" font-weight="bold" font-size="14.6" text-anchor="middle" fill="#141414">406m</text>
<text x="1327.4" y="674.7" font-family="Liberation Sans, sans-serif" font-weight="bold" font-size="14.6" text-anchor="middle" fill="#141414">Torre Fantasma</text>
<use href="#pinS" x="1327.4" y="643.7"/>
<rect x="1404.75" y="525.9" width="2.5" height="242.5" fill="#3f3f41"/>
<rect x="1404.75" y="768.4" width="2.5" height="77.4" fill="#fff"/>
<text x="1406.0" y="507.1" font-family="Liberation Sans, sans-serif" font-weight="bold" font-size="14.6" text-anchor="middle" fill="#141414">320m</text>
<text x="1406.0" y="521.3" font-family="Liberation Sans, sans-serif" font-weight="bold" font-size="14.6" text-anchor="middle" fill="#141414">Abastecimiento 4</text>
<use href="#pinF" x="1406.0" y="490.3"/>
<rect x="1428.05" y="645.1" width="2.5" height="123.6" fill="#3f3f41"/>
<rect x="1428.05" y="768.7" width="2.5" height="77.1" fill="#fff"/>
<text x="1429.3" y="626.3" font-family="Liberation Sans, sans-serif" font-weight="bold" font-size="14.6" text-anchor="middle" fill="#141414">319m</text>
<text x="1429.6" y="640.0" font-family="Liberation Sans, sans-serif" font-size="14" text-anchor="middle" textLength="137" lengthAdjust="spacingAndGlyphs" fill="#141414" stroke="#141414" stroke-width="0.4">Regreso Camino Público</text>
<use href="#circT" x="1429.3" y="582.3"/>
</g>
<g id="kmbar">
<rect x="21.1" y="852.6" width="1645.6" height="29" fill="#ec1c24"/>
<text x="67.8" y="872.4" font-family="Liberation Sans, sans-serif" font-size="15" text-anchor="middle" fill="#fff" stroke="#fff" stroke-width="0.55" textLength="22.6" lengthAdjust="spacingAndGlyphs">Km</text>
<text x="283.2" y="872.4" font-family="Liberation Sans, sans-serif" font-size="15" text-anchor="middle" fill="#fff" stroke="#fff" stroke-width="0.55">5.1</text>
<text x="356.3" y="872.4" font-family="Liberation Sans, sans-serif" font-size="15" text-anchor="middle" fill="#fff" stroke="#fff" stroke-width="0.55">7</text>
<text x="461.1" y="872.4" font-family="Liberation Sans, sans-serif" font-size="15" text-anchor="middle" fill="#fff" stroke="#fff" stroke-width="0.55">9.7</text>
<text x="628.4" y="872.4" font-family="Liberation Sans, sans-serif" font-size="15" text-anchor="middle" fill="#fff" stroke="#fff" stroke-width="0.55">14</text>
<text x="667.1" y="872.4" font-family="Liberation Sans, sans-serif" font-size="15" text-anchor="middle" fill="#fff" stroke="#fff" stroke-width="0.55">15</text>
<text x="823.1" y="872.4" font-family="Liberation Sans, sans-serif" font-size="15" text-anchor="middle" fill="#fff" stroke="#fff" stroke-width="0.55">19</text>
<text x="865.8" y="872.4" font-family="Liberation Sans, sans-serif" font-size="15" text-anchor="middle" fill="#fff" stroke="#fff" stroke-width="0.55">20.1</text>
<text x="904.5" y="872.4" font-family="Liberation Sans, sans-serif" font-size="15" text-anchor="middle" fill="#fff" stroke="#fff" stroke-width="0.55">21.1</text>
<text x="1013.8" y="872.4" font-family="Liberation Sans, sans-serif" font-size="15" text-anchor="middle" fill="#fff" stroke="#fff" stroke-width="0.55">23.9</text>
<text x="1048.1" y="872.4" font-family="Liberation Sans, sans-serif" font-size="15" text-anchor="middle" fill="#fff" stroke="#fff" stroke-width="0.55">24.8</text>
<text x="1157.6" y="872.4" font-family="Liberation Sans, sans-serif" font-size="15" text-anchor="middle" fill="#fff" stroke="#fff" stroke-width="0.55">27.6</text>
<text x="1327.4" y="872.4" font-family="Liberation Sans, sans-serif" font-size="15" text-anchor="middle" fill="#fff" stroke="#fff" stroke-width="0.55">32</text>
<text x="1405.8" y="872.4" font-family="Liberation Sans, sans-serif" font-size="15" text-anchor="middle" fill="#fff" stroke="#fff" stroke-width="0.55">34</text>
<text x="1429.6" y="872.4" font-family="Liberation Sans, sans-serif" font-size="15" text-anchor="middle" fill="#fff" stroke="#fff" stroke-width="0.55">34.6</text>
<text x="1616.6" y="872.4" font-family="Liberation Sans, sans-serif" font-size="15" text-anchor="middle" fill="#fff" stroke="#fff" stroke-width="0.55">39</text>
</g>
<g id="scale">
<rect x="84.0" y="886.2" width="1519.6" height="7.8" rx="1.5" fill="#fff" stroke="#b0b0b0" stroke-width="1.9"/>
<rect x="472.2" y="886.1" width="390.0" height="8" fill="#000"/>
<rect x="1250.7" y="886.1" width="353.5" height="8" fill="#000"/>
<text x="81.6" y="912.4" font-family="Liberation Sans, sans-serif" font-size="14.5" text-anchor="middle" fill="#222" stroke="#222" stroke-width="0.35">0</text>
<text x="473.9" y="912.4" font-family="Liberation Sans, sans-serif" font-size="14.5" text-anchor="middle" fill="#222" stroke="#222" stroke-width="0.35">10</text>
<text x="863.2" y="912.4" font-family="Liberation Sans, sans-serif" font-size="14.5" text-anchor="middle" fill="#222" stroke="#222" stroke-width="0.35">20</text>
<text x="1251.3" y="912.4" font-family="Liberation Sans, sans-serif" font-size="14.5" text-anchor="middle" fill="#222" stroke="#222" stroke-width="0.35">30</text>
</g>
<g id="footer">
<g fill="none" stroke="#000" stroke-width="2.5">
<circle cx="360.6" cy="962.3" r="25.6"/>
<ellipse cx="360.6" cy="962.3" rx="14.3" ry="25.6"/>
<path d="M360.6,936.6999999999999V987.9 M335.0,962.3H386.20000000000005 M338.1,950.0999999999999H383.1 M338.1,974.5H383.1"/>
</g>
<path d="M373,964.4 L373,989 L378.3,984.6 L382.3,992.4 L387,990.2 L383.1,982.3 L390.8,981 Z" fill="#fff" stroke="#fff" stroke-width="6.4" stroke-linejoin="round"/>
<path d="M373,964.4 L373,989 L378.3,984.6 L382.3,992.4 L387,990.2 L383.1,982.3 L390.8,981 Z" fill="#fff" stroke="#000" stroke-width="2.5" stroke-linejoin="miter"/>
<text x="399.4" y="975.8" font-family="Liberation Sans, sans-serif" font-weight="bold" font-size="36.6" textLength="264" lengthAdjust="spacingAndGlyphs" fill="#000" stroke="#000" stroke-width="1.3" stroke-linejoin="round">senderomtb.cl</text>
<path d="M741.7,914.4 L742.7,914.6 L743.6,915.2 L744.3,916.8 L744.8,919.0 L745.1,921.4 L745.4,923.5 L746.1,924.2 L746.9,924.5 L747.7,924.8 L748.7,924.7 L750.3,923.3 L752.1,921.6 L753.9,920.2 L755.4,919.5 L756.5,919.6 L757.4,920.2 L758.3,920.7 L759.0,921.6 L759.1,923.3 L758.8,925.5 L758.2,927.9 L757.8,930.0 L758.2,930.9 L758.9,931.4 L759.5,932.0 L760.5,932.2 L762.5,931.4 L764.7,930.5 L766.9,929.8 L768.5,929.6 L769.5,930.1 L770.2,930.9 L770.9,931.7 L771.2,932.8 L770.8,934.4 L769.7,936.4 L768.4,938.5 L767.2,940.3 L767.3,941.3 L767.8,942.0 L768.2,942.8 L769.0,943.3 L771.1,943.3 L773.6,943.1 L775.8,943.2 L777.5,943.6 L778.2,944.4 L778.6,945.4 L778.9,946.4 L778.9,947.5 L777.9,948.9 L776.2,950.4 L774.3,951.9 L772.6,953.2 L772.3,954.1 L772.5,955.0 L772.6,955.8 L773.2,956.6 L775.2,957.3 L777.6,958.0 L779.7,958.9 L781.1,959.8 L781.5,960.8 L781.5,961.9 L781.5,963.0 L781.1,964.0 L779.7,964.9 L777.6,965.8 L775.2,966.5 L773.2,967.2 L772.6,968.0 L772.5,968.8 L772.3,969.7 L772.6,970.6 L774.3,971.9 L776.2,973.4 L777.9,974.9 L778.9,976.3 L778.9,977.4 L778.6,978.4 L778.2,979.4 L777.5,980.2 L775.8,980.6 L773.6,980.7 L771.1,980.5 L769.0,980.5 L768.2,981.0 L767.8,981.8 L767.3,982.5 L767.2,983.5 L768.4,985.3 L769.7,987.4 L770.8,989.4 L771.2,991.0 L770.9,992.1 L770.2,992.9 L769.5,993.7 L768.5,994.2 L766.9,994.0 L764.7,993.3 L762.5,992.4 L760.5,991.6 L759.5,991.8 L758.9,992.4 L758.2,992.9 L757.8,993.8 L758.2,995.9 L758.8,998.3 L759.1,1000.5 L759.0,1002.2 L758.3,1003.1 L757.4,1003.6 L756.5,1004.2 L755.4,1004.3 L753.9,1003.6 L752.1,1002.2 L750.3,1000.5 L748.7,999.1 L747.7,999.0 L746.9,999.3 L746.1,999.6 L745.4,1000.3 L745.1,1002.4 L744.8,1004.8 L744.3,1007.0 L743.6,1008.6 L742.7,1009.2 L741.7,1009.4 L740.6,1009.5 L739.5,1009.3 L738.4,1008.1 L737.2,1006.2 L736.1,1004.0 L735.1,1002.1 L734.2,1001.7 L733.3,1001.7 L732.4,1001.7 L731.5,1002.1 L730.5,1004.0 L729.4,1006.2 L728.2,1008.1 L727.1,1009.3 L726.0,1009.5 L724.9,1009.4 L723.9,1009.2 L723.0,1008.6 L722.3,1007.0 L721.8,1004.8 L721.5,1002.4 L721.2,1000.3 L720.5,999.6 L719.7,999.3 L718.9,999.0 L717.9,999.1 L716.3,1000.5 L714.5,1002.2 L712.7,1003.6 L711.2,1004.3 L710.1,1004.2 L709.2,1003.6 L708.3,1003.1 L707.6,1002.2 L707.5,1000.5 L707.8,998.3 L708.4,995.9 L708.8,993.8 L708.4,992.9 L707.7,992.4 L707.1,991.8 L706.1,991.6 L704.1,992.4 L701.9,993.3 L699.7,994.0 L698.1,994.2 L697.1,993.7 L696.4,992.9 L695.7,992.1 L695.4,991.0 L695.8,989.4 L696.9,987.4 L698.2,985.3 L699.4,983.5 L699.3,982.5 L698.8,981.8 L698.4,981.0 L697.6,980.5 L695.5,980.5 L693.0,980.7 L690.8,980.6 L689.1,980.2 L688.4,979.4 L688.0,978.4 L687.7,977.4 L687.7,976.3 L688.7,974.9 L690.4,973.4 L692.3,971.9 L694.0,970.6 L694.3,969.7 L694.1,968.8 L694.0,968.0 L693.4,967.2 L691.4,966.5 L689.0,965.8 L686.9,964.9 L685.5,964.0 L685.1,963.0 L685.1,961.9 L685.1,960.8 L685.5,959.8 L686.9,958.9 L689.0,958.0 L691.4,957.3 L693.4,956.6 L694.0,955.8 L694.1,955.0 L694.3,954.1 L694.0,953.2 L692.3,951.9 L690.4,950.4 L688.7,948.9 L687.7,947.5 L687.7,946.4 L688.0,945.4 L688.4,944.4 L689.1,943.6 L690.8,943.2 L693.0,943.1 L695.5,943.3 L697.6,943.3 L698.4,942.8 L698.8,942.0 L699.3,941.3 L699.4,940.3 L698.2,938.5 L696.9,936.4 L695.8,934.4 L695.4,932.8 L695.7,931.7 L696.4,930.9 L697.1,930.1 L698.1,929.6 L699.7,929.8 L701.9,930.5 L704.1,931.4 L706.1,932.2 L707.1,932.0 L707.7,931.4 L708.4,930.9 L708.8,930.0 L708.4,927.9 L707.8,925.5 L707.5,923.3 L707.6,921.6 L708.3,920.7 L709.2,920.2 L710.1,919.6 L711.2,919.5 L712.7,920.2 L714.5,921.6 L716.3,923.3 L717.9,924.7 L718.9,924.8 L719.7,924.5 L720.5,924.2 L721.2,923.5 L721.5,921.4 L721.8,919.0 L722.3,916.8 L723.0,915.2 L723.9,914.6 L724.9,914.4 L726.0,914.3 L727.1,914.5 L728.2,915.7 L729.4,917.6 L730.5,919.8 L731.5,921.7 L732.4,922.1 L733.3,922.1 L734.2,922.1 L735.1,921.7 L736.1,919.8 L737.2,917.6 L738.4,915.7 L739.5,914.5 L740.6,914.3Z" fill="#f8cd03"/>
<path d="M765.2,949.0 A34.4,34.4 0 0 1 765.2,974.8 L758.0,971.9 A26.6,26.6 0 0 0 758.0,951.9Z M760.4,983.1 A34.4,34.4 0 0 1 738.1,996.0 L737.0,988.2 A26.6,26.6 0 0 0 754.3,978.3Z M728.5,996.0 A34.4,34.4 0 0 1 706.2,983.1 L712.3,978.3 A26.6,26.6 0 0 0 729.6,988.2Z M701.4,974.8 A34.4,34.4 0 0 1 701.4,949.0 L708.6,951.9 A26.6,26.6 0 0 0 708.6,971.9Z M706.2,940.7 A34.4,34.4 0 0 1 728.5,927.8 L729.6,935.6 A26.6,26.6 0 0 0 712.3,945.5Z M738.1,927.8 A34.4,34.4 0 0 1 760.4,940.7 L754.3,945.5 A26.6,26.6 0 0 0 737.0,935.6Z " fill="#000" stroke="#000" stroke-width="1.8" stroke-linejoin="round"/>
<circle cx="756.4" cy="975.2" r="1.7" fill="#000"/>
<circle cx="733.3" cy="988.6" r="1.7" fill="#000"/>
<circle cx="710.2" cy="975.2" r="1.7" fill="#000"/>
<circle cx="710.2" cy="948.5" r="1.7" fill="#000"/>
<circle cx="733.3" cy="935.2" r="1.7" fill="#000"/>
<circle cx="756.4" cy="948.5" r="1.7" fill="#000"/>
<circle cx="733.3" cy="961.9" r="23.4" fill="#f8cd03"/>
<circle cx="733.3" cy="961.9" r="20" fill="#0c0c10"/>
<circle cx="733.3" cy="961.9" r="17.4" fill="none" stroke="#fff" stroke-width="2.2"/>
<clipPath id="cpCR"><circle cx="733.3" cy="961.9" r="17.6"/></clipPath>
<g clip-path="url(#cpCR)"><text x="733.6999999999999" y="977.5" font-family="Liberation Sans, sans-serif" font-size="44" text-anchor="middle" textLength="30" lengthAdjust="spacingAndGlyphs" fill="#fff" stroke="#fff" stroke-width="0.7">CR</text></g>
<text x="795.3" y="982.6" font-family="Liberation Sans, sans-serif" font-weight="bold" font-size="32.5" text-anchor="middle" textLength="64" lengthAdjust="spacingAndGlyphs" fill="#000" stroke="#000" stroke-width="6.4" stroke-linejoin="round">Ciclo</text>
<text x="793" y="1006.8" font-family="Liberation Sans, sans-serif" font-weight="bold" font-size="32" text-anchor="middle" textLength="90.5" lengthAdjust="spacingAndGlyphs" fill="#000" stroke="#000" stroke-width="6.4" stroke-linejoin="round">Rengo</text>
<text x="795.3" y="982.6" font-family="Liberation Sans, sans-serif" font-weight="bold" font-size="32.5" text-anchor="middle" textLength="64" lengthAdjust="spacingAndGlyphs" fill="#fff" stroke="#fff" stroke-width="1.5" stroke-linejoin="round">Ciclo</text>
<text x="793" y="1006.8" font-family="Liberation Sans, sans-serif" font-weight="bold" font-size="32" text-anchor="middle" textLength="90.5" lengthAdjust="spacingAndGlyphs" fill="#f8cd03" stroke="#f8cd03" stroke-width="1.5" stroke-linejoin="round">Rengo</text>
<path d="M941.2,930.2 L1046.9,930.2 L1036,997.8 L930.2,997.8Z" fill="#ff1717"/>
<text x="0" y="0" transform="translate(859.2,980.4) skewX(-10.5) scale(0.44,1)" font-family="Liberation Sans, sans-serif" font-weight="bold" font-size="50.5" letter-spacing="9.5" fill="#000" stroke="#000" stroke-width="1.4" stroke-linejoin="miter">FULL</text>
<text x="0" y="0" transform="translate(935.4,980.4) skewX(-10.5) scale(0.44,1)" font-family="Liberation Sans, sans-serif" font-weight="bold" font-size="50.5" letter-spacing="10.5" fill="#fff" stroke="#fff" stroke-width="1.4" stroke-linejoin="miter">RACER</text>
<text x="0" y="0" transform="translate(860.4,980.4) skewX(-10.5) scale(0.44,1)" font-family="Liberation Sans, sans-serif" font-weight="bold" font-size="50.5" letter-spacing="9.5" fill="#000" stroke="#000" stroke-width="1.4" stroke-linejoin="miter">FULL</text>
<text x="0" y="0" transform="translate(936.6,980.4) skewX(-10.5) scale(0.44,1)" font-family="Liberation Sans, sans-serif" font-weight="bold" font-size="50.5" letter-spacing="10.5" fill="#fff" stroke="#fff" stroke-width="1.4" stroke-linejoin="miter">RACER</text>
<text x="0" y="0" transform="translate(861.6,980.4) skewX(-10.5) scale(0.44,1)" font-family="Liberation Sans, sans-serif" font-weight="bold" font-size="50.5" letter-spacing="9.5" fill="#000" stroke="#000" stroke-width="1.4" stroke-linejoin="miter">FULL</text>
<text x="0" y="0" transform="translate(937.8,980.4) skewX(-10.5) scale(0.44,1)" font-family="Liberation Sans, sans-serif" font-weight="bold" font-size="50.5" letter-spacing="10.5" fill="#fff" stroke="#fff" stroke-width="1.4" stroke-linejoin="miter">RACER</text>
<text x="0" y="0" transform="translate(862.8,980.4) skewX(-10.5) scale(0.44,1)" font-family="Liberation Sans, sans-serif" font-weight="bold" font-size="50.5" letter-spacing="9.5" fill="#000" stroke="#000" stroke-width="1.4" stroke-linejoin="miter">FULL</text>
<text x="0" y="0" transform="translate(939.0,980.4) skewX(-10.5) scale(0.44,1)" font-family="Liberation Sans, sans-serif" font-weight="bold" font-size="50.5" letter-spacing="10.5" fill="#fff" stroke="#fff" stroke-width="1.4" stroke-linejoin="miter">RACER</text>
<text x="0" y="0" transform="translate(989.6,995.5) skewX(-14)" font-family="Liberation Sans, sans-serif" font-weight="bold" font-size="13.2" textLength="44.5" lengthAdjust="spacing" fill="#fff">TEAM</text>
<text x="1067.4" y="968.8" font-family="Liberation Sans, sans-serif" font-weight="bold" font-style="italic" font-size="52" textLength="104" lengthAdjust="spacingAndGlyphs" fill="#000" stroke="#000" stroke-width="1.8" stroke-linejoin="round">Cron</text>
<text x="1213.6" y="968.8" font-family="Liberation Sans, sans-serif" font-weight="bold" font-style="italic" font-size="52" textLength="132.6" lengthAdjust="spacingAndGlyphs" fill="#000" stroke="#000" stroke-width="1.8" stroke-linejoin="round">Ticket</text>
<g fill="none" stroke="#000">
<path d="M1188.8,948.6 A13.4,13.4 0 1 1 1190.6,964.6" stroke-width="3.4"/>
<path d="M1195.2,935.6h10.4 M1200.4,935.8v5.4" stroke-width="3"/>
<path d="M1210.0,943.4l3.2,-3" stroke-width="3.2"/>
<path d="M1197.8,958.0L1204.8,949.8" stroke-width="4.4" stroke-linecap="round"/>
<path d="M1173.8,951.0h11.6 M1178.0,955.8h7.6 M1176.8,960.6h7.8" stroke-width="2.2"/>
</g>
<text x="1113" y="993.2" font-family="Liberation Sans, sans-serif" font-weight="bold" font-size="19.6" textLength="191.6" lengthAdjust="spacingAndGlyphs" fill="#000" stroke="#000" stroke-width="0.5">www.cronoticket.cl</text>
</g>
</svg>
</body></html>
